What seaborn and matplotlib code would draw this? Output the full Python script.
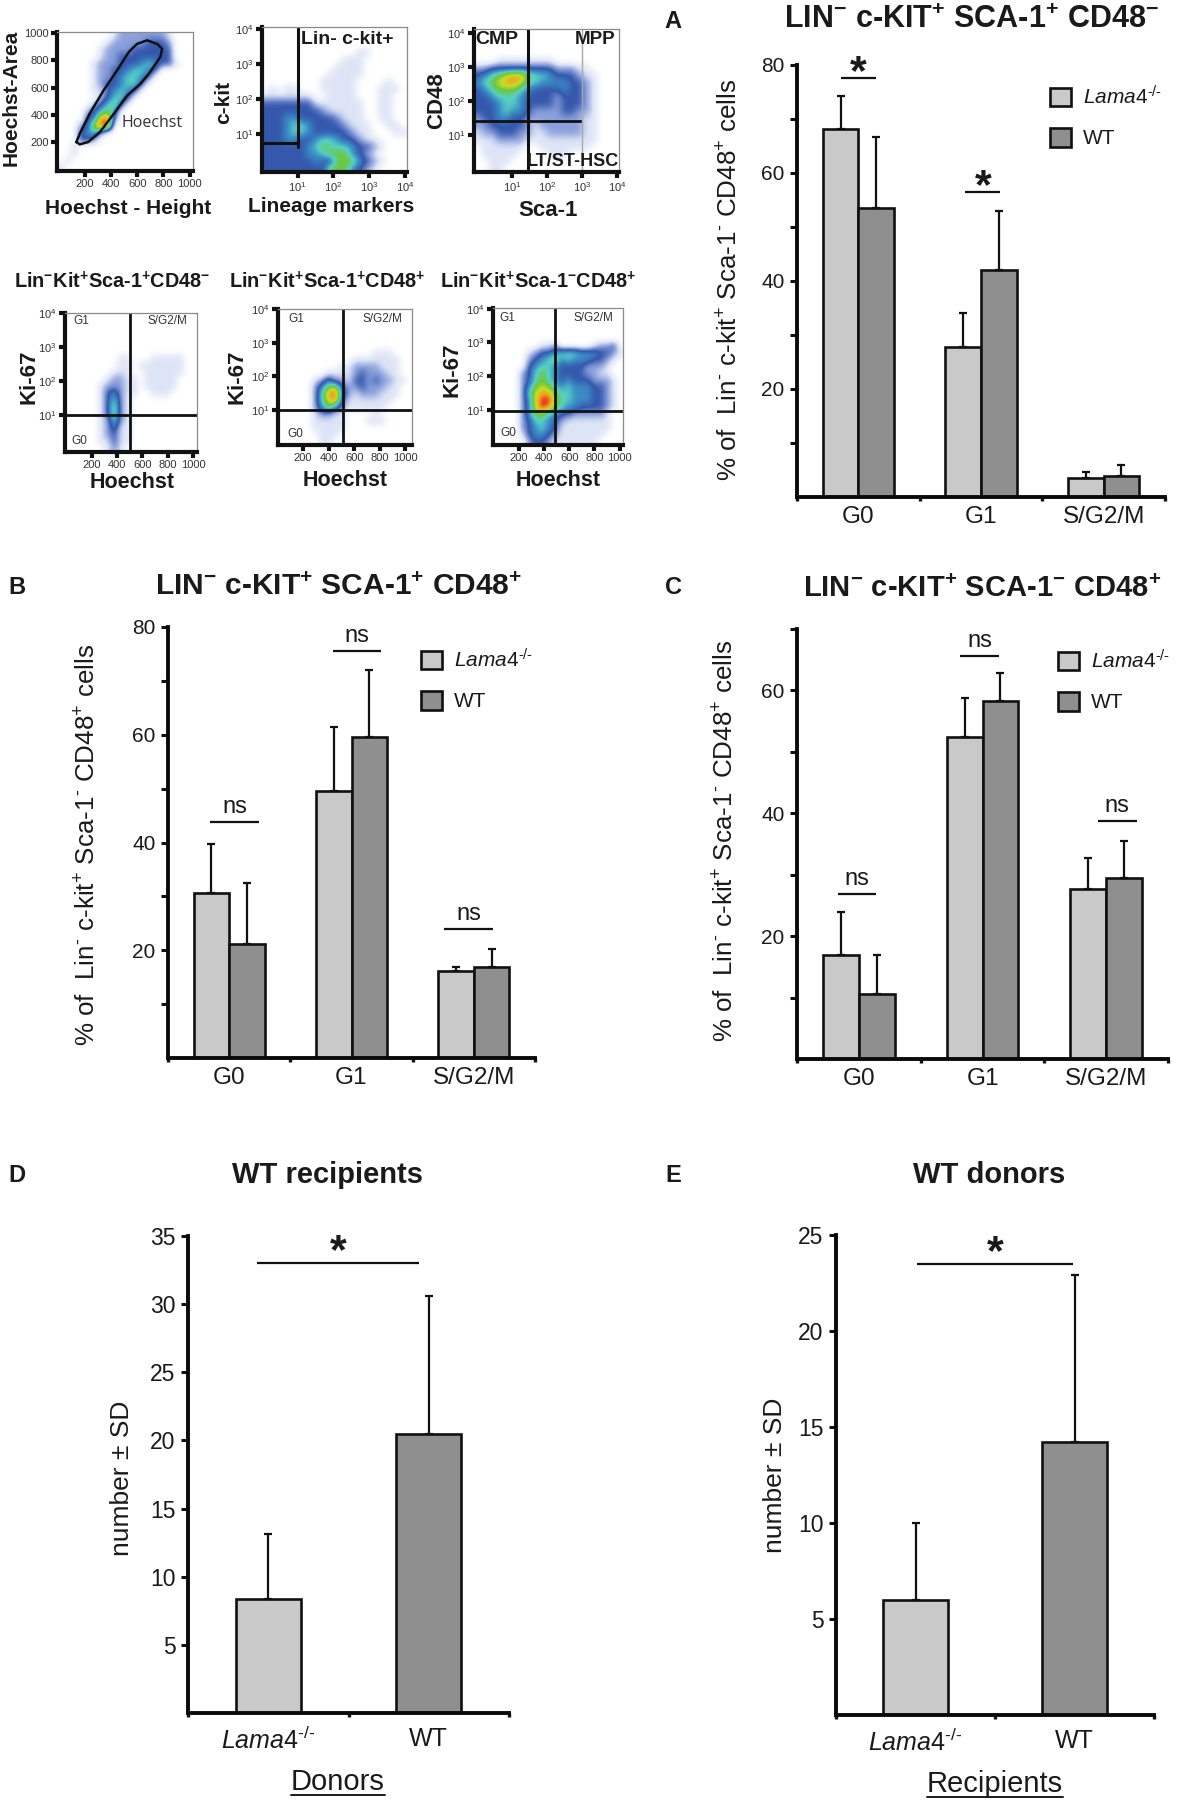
import numpy as np
import pandas as pd
import seaborn as sns
import matplotlib
matplotlib.use("Agg")
import matplotlib.pyplot as plt
from matplotlib.colors import LinearSegmentedColormap
from matplotlib.patches import Patch
from matplotlib.lines import Line2D

W, H = 1178, 1800
sns.set_theme(style="white")
plt.rcParams["font.family"] = ["Liberation Sans", "DejaVu Sans"]
plt.rcParams["mathtext.fontset"] = "custom"
plt.rcParams["mathtext.rm"] = "Liberation Sans"
plt.rcParams["mathtext.it"] = "Liberation Sans:italic"
plt.rcParams["mathtext.bf"] = "Liberation Sans:bold"
plt.rcParams["mathtext.default"] = "regular"

# ---------- bar data ----------
cycle = ["G0", "G1", "S/G2/M"]
A_lama = [68.1, 27.7, 3.5]
A_lama_sd = [6.2, 6.4, 1.1]
A_wt = [53.5, 42.1, 3.8]
A_wt_sd = [13.1, 10.9, 2.1]
B_lama = [30.6, 49.6, 16.1]
B_lama_sd = [9.2, 11.8, 0.8]
B_wt = [21.1, 59.5, 16.9]
B_wt_sd = [11.3, 12.5, 3.4]
C_lama = [17.0, 52.4, 27.7]
C_lama_sd = [7.0, 6.4, 5.0]
C_wt = [10.6, 58.3, 29.4]
C_wt_sd = [6.4, 4.5, 6.1]
D_vals = [8.36, 20.5]
D_sd = [4.8, 10.07]
E_vals = [6.0, 14.2]
E_sd = [4.0, 8.7]
LAMA = r"$\mathit{Lama4}^{\text{-/-}}$"
WT = "WT"
LIGHT, DARK = "#c9c9c9", "#8f8f8f"

# (x0, x1, y, text)
A_sig = [(-0.14, 0.146, 77.6, "*"), (0.872, 1.157, 56.4, "*")]
B_sig = [(-0.155, 0.245, 43.8, "ns"), (0.848, 1.245, 75.5, "ns"), (1.76, 2.155, 24.0, "ns")]
C_sig = [(-0.17, 0.14, 26.8, "ns"), (0.82, 1.13, 65.6, "ns"), (1.93, 2.25, 38.7, "ns")]
D_sig = [(-0.068, 0.94, 33.0, "*")]
E_sig = [(0.007, 0.99, 23.5, "*")]

# ---------- flow cytometry density grids (0 empty .. 9 peak) ----------
P1_density = [
    "00000000122222221000", "00000001222223332000", "00000012222333333000",
    "00000012233333333000", "00000122233345433100", "00000122334554300000",
    "00000122345543000000", "00000123345530000000", "00000113454300000000",
    "00000023553000000000", "00000235630000000000", "00002356400000000000",
    "00003489200000000000", "00023799000000000000", "00034520000000000000",
    "00033200000000000000", "00100000000000000000", "00100000000000000000",
    "01000000000000000000", "10000000000000000000",
]
P2_density = [
    "00000000000000000000", "00000000000000000000", "00000000000000000000",
    "00000000000001100000", "00000000000111000000", "00000000001111000000",
    "00000000011111000000", "00000000111110000100", "01011000111110001110",
    "11111110011110001100", "33333331111111001100", "33333333211111001100",
    "33344333332111001100", "33345543333211100110", "33345543333321100011",
    "33344334554332110000", "33333345655543321000", "33333344566643210000",
    "33333334336664321000", "33333333366643210000",
]
P3_density = [
    "00000000000000000000", "00000000000000000000", "00000000000000000000",
    "00000000000000000000", "00011111111000000000", "22333333333222110000",
    "34567886554333211000", "45678875544443321000", "34566654333343321000",
    "33455543333233321000", "33345543333233321000", "33345443222233221000",
    "23344332222222211000", "22333332122222211000", "12233322112222211000",
    "11122221111111111000", "01111110011111110000", "01111100001110000000",
    "00111000000000000000", "00110000000000000000",
]
P4_density = [
    "00000000000000000000", "00000000000000000000", "00000000000000000000",
    "00000000000000000000", "00000000000000000000", "00000000000000000000",
    "00000000110001111100", "00000000110111111100", "00000001110011111100",
    "00000012211011111000", "00000122211011111000", "00000134211001110000",
    "00000135210000000000", "00000136210000000000", "00000136210000000000",
    "00000125210000000000", "00000124110000000000", "00000123110000000000",
    "00000113110000000000", "00000012100000000000",
]
P5_density = [
    "00000000000000000000", "00000000000000000000", "00000000000000000000",
    "00000000000000000000", "00000000000000000000", "00000000000000000000",
    "00000000000000111000", "00000000000111111100", "00000000011222211100",
    "00000001111232221100", "00000124221332322110", "00000246732232221100",
    "00000258942122211100", "00000257831111111000", "00000246421111110000",
    "00000122110000100000", "00000111110001110000", "00000111110000000000",
    "00000011100000000000", "00000011000000000000",
]
P6_density = [
    "00000000000000000000", "00000000000000000000", "00000000000000000000",
    "00000000000000000000", "00000000000000000000", "00000001120000012230",
    "00000123345554443321", "00000234564544433210", "00000345543333222100",
    "00002356543333221100", "00002356543433322210", "00002467654544433210",
    "00002578865544433210", "00002479975544433210", "00002479865443333210",
    "00002466543322222100", "00002355432111111100", "00002345431111111100",
    "00001344321111111000", "00000233211111110000",
]
hoechst_gate_x = [135, 161, 225, 315, 430, 520, 623, 687, 777, 790, 752, 675, 598, 535, 445, 343, 237, 161, 135]
hoechst_gate_y = [202, 185, 202, 275, 420, 540, 627, 700, 825, 885, 920, 946, 920, 860, 725, 580, 410, 263, 202]
linear_ticks = [200, 400, 600, 800, 1000]
log_ticks = [1, 2, 3, 4]

flow_cmap = LinearSegmentedColormap.from_list(
    "flow",
    ["#ffffff", "#dde4f5", "#8ba0dc", "#3558ac", "#3b8cc6", "#58d0c4", "#6cc83c", "#c8dc28", "#f2a020", "#e01c1c"],
)

fig = plt.figure(figsize=(W / 100, H / 100), dpi=100, facecolor="white")


def axpx(l, t, r, b):
    return fig.add_axes([l / W, 1 - b / H, (r - l) / W, (b - t) / H])


def ftext(x, y, s, **kw):
    kw.setdefault("ha", "center")
    kw.setdefault("va", "center")
    kw.setdefault("color", "#1a1a1a")
    return fig.text(x / W, 1 - y / H, s, **kw)


def logfmt(v):
    return "$10^{%d}$" % v


def flow_panel(rect, density, xlim, ylim, xticks, yticks, xlabels, ylabels):
    ax = axpx(*rect)
    grid = np.array([[int(c) for c in row] for row in density], dtype=float)
    ax.imshow(grid, cmap=flow_cmap, vmin=0, vmax=9, aspect="auto", interpolation="bicubic",
              extent=[xlim[0], xlim[1], ylim[0], ylim[1]], origin="upper")
    ax.set_xlim(*xlim)
    ax.set_ylim(*ylim)
    ax.set_xticks(xticks, xlabels)
    ax.set_yticks(yticks, ylabels)
    ax.tick_params(bottom=True, left=True, length=4, width=3, color="#111111", labelsize=8,
                   labelcolor="#333333", pad=2, direction="out")
    ax.grid(False)
    for s in ("left", "bottom"):
        ax.spines[s].set_linewidth(3)
        ax.spines[s].set_color("#111111")
    for s in ("top", "right"):
        ax.spines[s].set_linewidth(0.9)
        ax.spines[s].set_color("#8a8a8a")
    return ax


def gate(ax, vx=None, hy=None, vspan=(0, 1), hspan=(0, 1), lw=2.0, color="#111111"):
    if vx is not None:
        ax.axvline(vx, *vspan, color=color, lw=lw)
    if hy is not None:
        ax.axhline(hy, *hspan, color=color, lw=lw)


# ---------- top row flow plots ----------
lin_labels = [str(v) for v in linear_ticks]
log_labels = [logfmt(v) for v in log_ticks]

ax1 = flow_panel((57, 32, 193, 171), P1_density, (-13, 1026), (-10, 1007), linear_ticks, linear_ticks, lin_labels, lin_labels)
ax1.plot(hoechst_gate_x, hoechst_gate_y, color="#111111", lw=1.8, solid_joinstyle="round")
ax1.text(0.70, 0.345, "Hoechst", transform=ax1.transAxes, ha="center", va="center", fontsize=11.5,
         family="Open Sans", color="#333333")
ftext(128, 209, "Hoechst - Height", fontsize=15, fontweight="bold")
ftext(11, 98, "Hoechst-Area", fontsize=15, fontweight="bold", rotation=90)

ax2 = flow_panel((262, 27, 407, 172), P2_density, (0, 4.06), (-0.086, 4.06), log_ticks, log_ticks, log_labels, log_labels)
gate(ax2, vx=1.0, vspan=(0.175, 1), lw=2.2)
gate(ax2, hy=0.73, hspan=(0, 1.0 / 4.06), lw=2.2)
ftext(347, 40, "Lin- c-kit+", fontsize=14, fontweight="bold")
ftext(331, 207, "Lineage markers", fontsize=15, fontweight="bold")
ftext(224, 102, "c-kit", fontsize=15, fontweight="bold", rotation=90)

ax3 = flow_panel((474, 29, 619, 172), P3_density, (-0.086, 4.06), (-0.09, 4.12), log_ticks, log_ticks, log_labels, log_labels)
gate(ax3, vx=1.45, lw=2.2)
gate(ax3, hy=1.4, hspan=(0, 0.74), lw=2.0)
gate(ax3, vx=3.0, lw=1.0, color="#a8a8a8")
ftext(497, 40, "CMP", fontsize=14, fontweight="bold")
ftext(595, 40, "MPP", fontsize=13.5, fontweight="bold")
ftext(573, 162, "LT/ST-HSC", fontsize=13, fontweight="bold")
ftext(548, 210, "Sca-1", fontsize=16, fontweight="bold")
ftext(437, 101, "CD48", fontsize=16, fontweight="bold", rotation=90)

# ---------- second row flow plots ----------
ax4 = flow_panel((65, 313, 197, 452), P4_density, (-14, 1032), (-0.09, 4.0), linear_ticks, log_ticks, lin_labels, log_labels)
gate(ax4, vx=503, hy=1.0)
ax5 = flow_panel((278, 309, 412, 445), P5_density, (3, 1052), (-0.04, 4.0), linear_ticks, log_ticks, lin_labels, log_labels)
gate(ax5, vx=515, hy=1.0)
ax6 = flow_panel((493, 308, 623, 445), P6_density, (-3, 1026), (-0.04, 4.02), linear_ticks, log_ticks, lin_labels, log_labels)
gate(ax6, vx=490, hy=0.97)

phase_labels = [
    (ax4, (0.126, 0.94), (0.776, 0.94), (0.106, 0.08)),
    (ax5, (0.14, 0.93), (0.78, 0.93), (0.13, 0.08)),
    (ax6, (0.11, 0.927), (0.77, 0.927), (0.115, 0.085)),
]
for ax, g1, s, g0 in phase_labels:
    for pos, txt in ((g1, "G1"), (s, "S/G2/M"), (g0, "G0")):
        ax.text(*pos, txt, transform=ax.transAxes, ha="center", va="center", fontsize=8.5, color="#333333")

flow_titles = [
    (112, "Lin$^{\\mathbf{-}}$Kit$^{\\mathbf{+}}$Sca-1$^{\\mathbf{+}}$CD48$^{\\mathbf{-}}$"),
    (327, "Lin$^{\\mathbf{-}}$Kit$^{\\mathbf{+}}$Sca-1$^{\\mathbf{+}}$CD48$^{\\mathbf{+}}$"),
    (538, "Lin$^{\\mathbf{-}}$Kit$^{\\mathbf{+}}$Sca-1$^{\\mathbf{-}}$CD48$^{\\mathbf{+}}$"),
]
for x, t in flow_titles:
    ftext(x, 282, t, fontsize=14.3, fontweight="bold")
for x, y in ((29, 377), (237, 377), (452, 370)):
    ftext(x, y, "Ki-67", fontsize=16, fontweight="bold", rotation=90)
for x, y in ((132, 482), (345, 481), (558, 481)):
    ftext(x, y, "Hoechst", fontsize=15.5, fontweight="bold")


# ---------- bar panels ----------
def style_bar_axis(ax, n, ymax, major, minor, xlabels, tick_fs, xlab_fs, xpad):
    ax.set_xlim(-0.5, n - 0.5)
    ax.set_ylim(0, ymax)
    ax.set_xticks(np.arange(n + 1) - 0.5, [""] * (n + 1))
    ax.set_xticks(np.arange(n), xlabels, minor=True)
    ax.set_yticks(major)
    ax.set_yticks(minor, minor=True)
    ax.set_xlabel("")
    ax.set_ylabel("")
    ax.tick_params(axis="x", which="major", bottom=True, length=3, width=2.4, color="#111111")
    ax.tick_params(axis="x", which="minor", bottom=False, length=0, labelsize=xlab_fs, labelcolor="#1a1a1a", pad=xpad)
    ax.tick_params(axis="y", which="both", left=True, length=5, width=2.2, color="#111111",
                   labelsize=tick_fs, labelcolor="#1a1a1a", pad=4)
    for s in ("top", "right"):
        ax.spines[s].set_visible(False)
    for s in ("left", "bottom"):
        ax.spines[s].set_linewidth(2.8)
        ax.spines[s].set_color("#0a0a0a")
    ax.grid(False)


def sig_marks(ax, marks, star_offset):
    for x0, x1, y, t in marks:
        ax.plot([x0, x1], [y, y], color="#111111", lw=1.6, solid_capstyle="butt", clip_on=False)
        if t == "*":
            ax.annotate(t, ((x0 + x1) / 2, y), xytext=(0, star_offset), textcoords="offset points",
                        ha="center", va="center", fontsize=31, fontweight="bold", color="#1a1a1a")
        else:
            ax.annotate(t, ((x0 + x1) / 2, y), xytext=(0, 3), textcoords="offset points", ha="center",
                        va="bottom", fontsize=17, color="#1a1a1a")


def grouped_panel(rect, lama, lama_sd, wt, wt_sd, ymax, major, minor, marks, legend_xy):
    ax = axpx(*rect)
    df = pd.DataFrame({
        "cycle": cycle * 2,
        "value": lama + wt,
        "genotype": [LAMA] * len(lama) + [WT] * len(wt),
    })
    sns.barplot(df, x="cycle", y="value", hue="genotype", order=cycle, hue_order=[LAMA, WT],
                palette=[LIGHT, DARK], width=0.58, gap=0, errorbar=None, edgecolor="#111111",
                linewidth=1.9, saturation=1, legend=False, ax=ax)
    for cont, vals, sds in zip(ax.containers, (lama, wt), (lama_sd, wt_sd)):
        for rect_, v, s in zip(cont, vals, sds):
            ax.errorbar(rect_.get_x() + rect_.get_width() / 2, v, yerr=[[0], [s]], color="#111111",
                        elinewidth=1.6, capsize=3, capthick=1.6, zorder=1)
    style_bar_axis(ax, 3, ymax, major, minor, cycle, 15, 17.5, 6.5)
    sig_marks(ax, marks, 3.5)
    handles = [Patch(facecolor=LIGHT, edgecolor="#111111", linewidth=1.9, label=LAMA),
               Patch(facecolor=DARK, edgecolor="#111111", linewidth=1.9, label=WT)]
    ax.legend(handles=handles, loc="upper left", bbox_to_anchor=(legend_xy[0] / W, 1 - legend_xy[1] / H),
              bbox_transform=fig.transFigure, frameon=False, fontsize=15, handlelength=1.0, handleheight=1.0,
              labelspacing=0.95, handletextpad=0.6, borderaxespad=0, borderpad=0, labelcolor="#1a1a1a")
    return ax


axA = grouped_panel((797, 65, 1165, 497), A_lama, A_lama_sd, A_wt, A_wt_sd, 80, [20, 40, 60, 80], [10, 30, 50, 70], A_sig, (1050, 85))
axB = grouped_panel((168, 627, 535, 1058), B_lama, B_lama_sd, B_wt, B_wt_sd, 80, [20, 40, 60, 80], [10, 30, 50, 70], B_sig, (421, 648))
axC = grouped_panel((797, 629, 1168, 1059), C_lama, C_lama_sd, C_wt, C_wt_sd, 70, [20, 40, 60], [10, 30, 50, 70], C_sig, (1058, 649))


def single_panel(rect, vals, sds, ymax, major, marks):
    ax = axpx(*rect)
    df = pd.DataFrame({"genotype": [LAMA, WT], "value": vals})
    sns.barplot(df, x="genotype", y="value", hue="genotype", order=[LAMA, WT], hue_order=[LAMA, WT],
                palette=[LIGHT, DARK], width=0.405, dodge=False, errorbar=None, edgecolor="#111111",
                linewidth=1.9, saturation=1, legend=False, ax=ax)
    bars = [p for p in ax.patches if p.get_height() > 0]
    for p, v, s in zip(bars, vals, sds):
        ax.errorbar(p.get_x() + p.get_width() / 2, v, yerr=[[0], [s]], color="#111111",
                    elinewidth=1.6, capsize=3, capthick=1.6, zorder=1)
    style_bar_axis(ax, 2, ymax, major, [], [LAMA, WT], 16.5, 18, 10)
    sig_marks(ax, marks, 8)
    return ax


axD = single_panel((188, 1236, 509, 1713), D_vals, D_sd, 35, [5, 10, 15, 20, 25, 30, 35], D_sig)
axE = single_panel((836, 1235, 1154, 1715), E_vals, E_sd, 25, [5, 10, 15, 20, 25], E_sig)

# titles, panel letters, axis labels
tA = "LIN$^{\\mathbf{-}}$ c-KIT$^{\\mathbf{+}}$ SCA-1$^{\\mathbf{+}}$ CD48$^{\\mathbf{-}}$"
tB = "LIN$^{\\mathbf{-}}$ c-KIT$^{\\mathbf{+}}$ SCA-1$^{\\mathbf{+}}$ CD48$^{\\mathbf{+}}$"
tC = "LIN$^{\\mathbf{-}}$ c-KIT$^{\\mathbf{+}}$ SCA-1$^{\\mathbf{-}}$ CD48$^{\\mathbf{+}}$"
ftext(972, 20, tA, fontsize=22, fontweight="bold")
ftext(339, 587, tB, fontsize=21.5, fontweight="bold")
ftext(982, 589, tC, fontsize=21, fontweight="bold")
ftext(327, 1175, "WT recipients", fontsize=21, fontweight="bold")
ftext(989, 1175, "WT donors", fontsize=21, fontweight="bold")
for x, y, s in ((673, 22, "A"), (17, 587, "B"), (674, 588, "C"), (17, 1176, "D"), (673, 1176, "E")):
    ftext(x, y, s, fontsize=17, fontweight="bold")

ylab = "% of  Lin$^{\\text{-}}$ c-kit$^{+}$ Sca-1$^{\\text{-}}$ CD48$^{+}$ cells"
for x, y in ((730, 280), (88, 845), (726, 841)):
    ftext(x, y, ylab, fontsize=18.7, rotation=90)
for x, y in ((122, 1478), (775, 1475)):
    ftext(x, y, "number ± SD", fontsize=19, rotation=90)

fig.canvas.draw()
for x, y, s in ((338, 1782, "Donors"), (995, 1784, "Recipients")):
    t = ftext(x, y, s, fontsize=21)
    bb = t.get_window_extent(fig.canvas.get_renderer())
    fig.add_artist(Line2D([bb.x0 / W, bb.x1 / W], [(bb.y0 + 1) / H, (bb.y0 + 1) / H],
                          transform=fig.transFigure, color="#1a1a1a", lw=1.4))

fig.savefig("out.png", dpi=100, facecolor="white")
